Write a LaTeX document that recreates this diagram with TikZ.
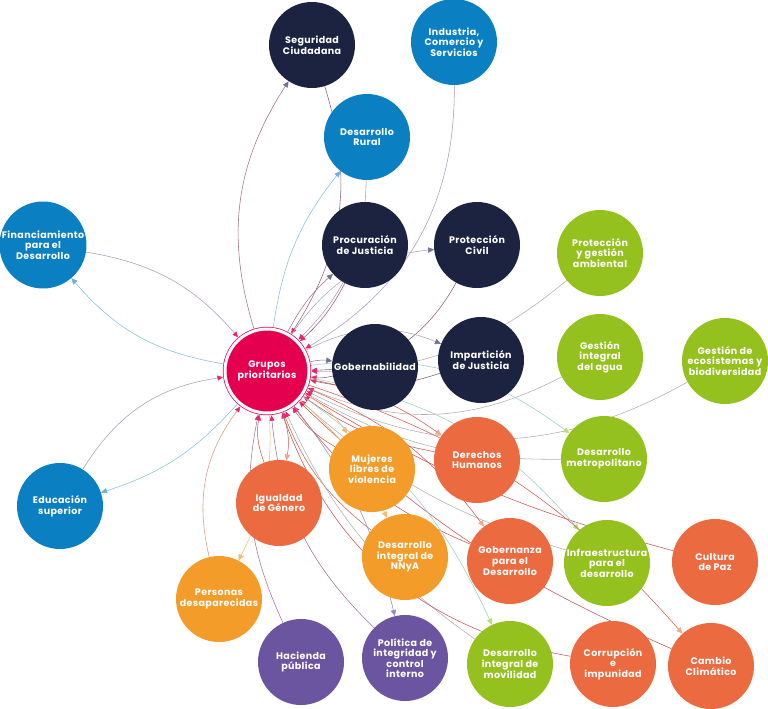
\documentclass[tikz,border=0pt]{standalone}
\usepackage{fontspec}
\setmainfont{Poppins}[LetterSpace=4]
\usetikzlibrary{arrows.meta}
\pgfdeclarelayer{bg}
\pgfsetlayers{bg,main}
\definecolor{navyc}{HTML}{1B2340}
\definecolor{bluec}{HTML}{0A7FC2}
\definecolor{greenc}{HTML}{95C11F}
\definecolor{orangec}{HTML}{F39C2A}
\definecolor{coralc}{HTML}{EC6A40}
\definecolor{purplec}{HTML}{6C55A0}
\definecolor{pinkc}{HTML}{E4004F}
\definecolor{lnred}{HTML}{B0405F}
\definecolor{tealc}{HTML}{95CFC0}
\definecolor{grayarr}{HTML}{6D7392}
\tikzset{
  bub/.style={circle, minimum size=86pt, inner sep=0pt, fill=#1, text=white,
    align=center, font=\bfseries\fontsize{9.5}{10.6}\selectfont},
  ln/.style={draw=#1, line width=0.55pt},
  ing/.style={ln=#1, -{Triangle[width=5pt,length=5.5pt,color=pinkc!85!white]}},
  outg/.style 2 args={ln=#1, -{Triangle[width=5.5pt,length=6pt,color=#2]}},
}
\begin{document}
\begin{tikzpicture}[x=1pt,y=-1pt]
\useasboundingbox (0,0) rectangle (768,709);
% nodes
\node[bub=pinkc, minimum size=84pt, draw=pinkc, double=white, double distance=3pt, line width=0.7pt, outer sep=2.5pt] (gru) at (267,371) {Grupos\\prioritarios};
\node[bub=navyc] (seg) at (312,45) {Seguridad\\Ciudadana};
\node[bub=bluec] (ind) at (454,42) {Industria,\\Comercio y\\Servicios};
\node[bub=bluec] (rur) at (367,137) {Desarrollo\\Rural};
\node[bub=navyc] (pro) at (365,245) {Procuración\\de Justicia};
\node[bub=navyc] (civ) at (477,245) {Protección\\Civil};
\node[bub=bluec] (fin) at (43,245) {Financiamiento\\para el\\Desarrollo};
\node[bub=greenc] (amb) at (600,253) {Protección\\y gestión\\ambiental};
\node[bub=navyc] (gob) at (375,367) {Gobernabilidad};
\node[bub=navyc] (imp) at (481,360) {Impartición\\de Justicia};
\node[bub=greenc] (agu) at (600,357) {Gestión\\integral\\del agua};
\node[bub=greenc] (eco) at (725,361) {Gestión de\\ecosistemas y\\biodiversidad};
\node[bub=greenc] (met) at (604,459) {Desarrollo\\metropolitano};
\node[bub=coralc] (der) at (477,460) {Derechos\\Humanos};
\node[bub=orangec] (muj) at (372,469) {Mujeres\\libres de\\violencia};
\node[bub=coralc] (igu) at (279,503) {Igualdad\\de Género};
\node[bub=orangec] (nny) at (405,557) {Desarrollo\\integral de\\NNyA};
\node[bub=coralc] (gbz) at (510,561) {Gobernanza\\para el\\Desarrollo};
\node[bub=greenc] (inf) at (607,563) {Infraestructura\\para el\\desarrollo};
\node[bub=coralc] (cul) at (715,562) {Cultura\\de Paz};
\node[bub=orangec] (per) at (219,599) {Personas\\desaparecidas};
\node[bub=purplec] (hac) at (301,662) {Hacienda\\pública};
\node[bub=purplec] (pol) at (405,658) {Política de\\integridad y\\control\\interno};
\node[bub=greenc] (mov) at (510,664) {Desarrollo\\integral de\\movilidad};
\node[bub=coralc] (cor) at (613,664) {Corrupción\\e\\impunidad};
\node[bub=coralc] (cam) at (711,666) {Cambio\\Climático};
\node[bub=bluec] (edu) at (60,506) {Educación\\superior};
\begin{pgfonlayer}{bg}
% lines into Grupos prioritarios
\draw[ing=navyc!40!lnred!80!white] (seg) to[bend left=25] (gru);
\draw[ing=bluec!35!lnred!60!white] (ind) to[bend left=30] (gru);
\draw[ing=bluec!35!lnred!60!white] (rur) to[bend left=22] (gru);
\draw[ing=navyc!40!lnred!80!white] (pro) to[bend left=10] (gru);
\draw[ing=navyc!40!lnred!80!white] (civ) to[bend left=30] (gru);
\draw[ing=bluec!35!lnred!60!white] (fin) to[bend left=20] (gru);
\draw[ing=tealc!60!lnred!80!white] (amb) to[bend left=20] (gru);
\draw[ing=navyc!40!lnred!80!white] (gob) to[bend left=10] (gru);
\draw[ing=navyc!40!lnred!80!white] (imp) to[bend left=15] (gru);
\draw[ing=tealc!60!lnred!80!white] (agu) to[bend left=25] (gru);
\draw[ing=tealc!60!lnred!80!white] (eco) to[bend left=28] (gru);
\draw[ing=tealc!60!lnred!80!white] (met) to[bend left=15] (gru);
\draw[ing=coralc!40!lnred] (der) to[bend left=12] (gru);
\draw[ing=orangec!40!lnred] (muj) to[bend left=12] (gru);
\draw[ing=coralc!40!lnred] (igu) to[bend left=15] (gru);
\draw[ing=orangec!40!lnred] (nny) to[bend left=15] (gru);
\draw[ing=coralc!40!lnred] (gbz) to[bend left=15] (gru);
\draw[ing=tealc!60!lnred!80!white] (inf) to[bend left=12] (gru);
\draw[ing=coralc!40!lnred] (cul) to[bend left=8] (gru);
\draw[ing=orangec!50!lnred!70!white] (per) to[bend left=25] (gru);
\draw[ing=purplec!60!lnred!80!white] (hac) to[bend left=18] (gru);
\draw[ing=purplec!60!lnred!80!white] (pol) to[bend left=20] (gru);
\draw[ing=tealc!60!lnred!80!white] (mov) to[bend left=15] (gru);
\draw[ing=coralc!40!lnred] (cor) to[bend left=30] (gru);
\draw[ing=coralc!40!lnred] (cam) to[bend left=10] (gru);
\draw[ing=bluec!35!lnred!60!white] (edu) to[bend left=25] (gru);
% lines out of Grupos prioritarios
\draw[outg={navyc!40!lnred!70!white}{grayarr}] (gru) to[bend left=25] (seg);
\draw[outg={bluec!50!white}{bluec!60!white}] (gru) to[bend left=15] (rur);
\draw[outg={navyc!40!lnred!70!white}{grayarr}] (gru) to[bend left=10] (pro);
\draw[outg={navyc!40!white}{grayarr}] (gru) to[bend left=25] (civ);
\draw[outg={navyc!40!lnred!70!white}{grayarr}] (gru) to[bend left=10] (gob);
\draw[outg={navyc!40!white}{grayarr}] (gru) to[bend left=25] (imp);
\draw[outg={bluec!50!white}{bluec!60!white}] (gru) to[bend left=20] (fin);
\draw[outg={bluec!50!white}{bluec!60!white}] (gru) to[bend left=15] (edu);
\draw[outg={tealc}{greenc!60!white}] (gru) to[bend left=22] (met);
\draw[outg={coralc!60!lnred}{coralc!60!white}] (gru) to[bend left=12] (der);
\draw[outg={orangec!70!white}{orangec!70!white}] (gru) to[bend left=12] (muj);
\draw[outg={coralc!60!lnred}{coralc!60!white}] (gru) to[bend left=15] (igu);
\draw[outg={orangec!70!white}{orangec!70!white}] (gru) to[bend left=12] (nny);
\draw[outg={coralc!60!lnred}{coralc!60!white}] (gru) to[bend left=15] (gbz);
\draw[outg={tealc}{greenc!60!white}] (gru) to[bend left=20] (inf);
\draw[outg={orangec!70!white}{orangec!70!white}] (gru) to[bend left=15] (per);
\draw[outg={purplec!70!white}{purplec!70!white}] (gru) to[bend left=12] (pol);
\draw[outg={tealc}{greenc!60!white}] (gru) to[bend left=15] (mov);
\draw[outg={coralc!60!lnred}{coralc!60!white}] (gru) to[bend left=15] (cam);
\end{pgfonlayer}
\end{tikzpicture}
\end{document}
